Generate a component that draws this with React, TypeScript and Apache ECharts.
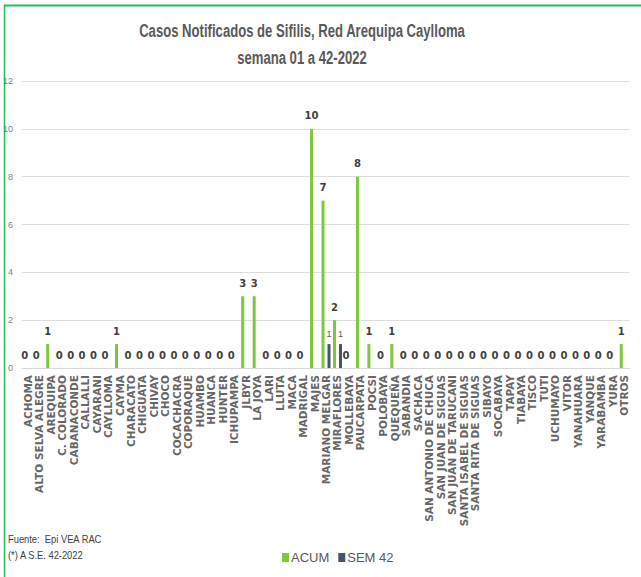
import React, { useEffect, useRef } from "react";
import * as echarts from "echarts";

const categories = [
  "ACHOMA", "ALTO SELVA ALEGRE", "AREQUIPA", "C. COLORADO", "CABANACONDE", "CALLALLI", "CAYARANI", "CAYLLOMA", "CAYMA",
  "CHARACATO", "CHIGUATA", "CHIVAY", "CHOCO", "COCACHACRA", "COPORAQUE", "HUAMBO", "HUANCA", "HUNTER", "ICHUPAMPA",
  "JLBYR", "LA JOYA", "LARI", "LLUTA", "MACA", "MADRIGAL", "MAJES", "MARIANO MELGAR", "MIRAFLORES", "MOLLEBAYA",
  "PAUCARPATA", "POCSI", "POLOBAYA", "QUEQUEÑA", "SABANDIA", "SACHACA", "SAN ANTONIO DE CHUCA", "SAN JUAN DE SIGUAS",
  "SAN JUAN DE TARUCANI", "SANTA ISABEL DE SIGUAS", "SANTA RITA DE SIGUAS", "SIBAYO", "SOCABAYA", "TAPAY", "TIABAYA",
  "TISCO", "TUTI", "UCHUMAYO", "VITOR", "YANAHUARA", "YANQUE", "YARABAMBA", "YURA", "OTROS",
];

const acum = [
  0, 0, 1, 0, 0, 0, 0, 0, 1,
  0, 0, 0, 0, 0, 0, 0, 0, 0, 0,
  3, 3, 0, 0, 0, 0, 10, 7, 2, 0,
  8, 1, 0, 1, 0, 0, 0, 0,
  0, 0, 0, 0, 0, 0, 0,
  0, 0, 0, 0, 0, 0, 0, 0, 1,
];

const sem42 = [
  0, 0, 0, 0, 0, 0, 0, 0, 0,
  0, 0, 0, 0, 0, 0, 0, 0, 0, 0,
  0, 0, 0, 0, 0, 0, 0, 1, 1, 0,
  0, 0, 0, 0, 0, 0, 0, 0,
  0, 0, 0, 0, 0, 0, 0,
  0, 0, 0, 0, 0, 0, 0, 0, 0,
];

const yTicks = [0, 2, 4, 6, 8, 10, 12];

const titleLines = ["Casos Notificados de Sifilis, Red Arequipa Caylloma", "semana 01 a 42-2022"];
const footnotes = ["Fuente:  Epi VEA RAC", "(*) A S.E. 42-2022"];

const SANS = "'Liberation Sans', Arial, sans-serif";

export default function App() {
  const ref = useRef<HTMLDivElement>(null);
  useEffect(() => {
    if (!ref.current) return;
    const chart = echarts.init(ref.current, undefined, { renderer: "svg" });
    chart.setOption({
      animation: false,
      backgroundColor: "#ffffff",
      legend: {
        data: ["ACUM", "SEM 42"],
        left: 277,
        top: 546,
        itemWidth: 7,
        itemHeight: 9,
        itemGap: 9,
        icon: "rect",
        textStyle: { fontFamily: SANS, fontSize: 13, color: "#595959", padding: [0, 0, 0, -3] },
      },
      grid: { left: 22, right: 11, top: 81, bottom: 209, containLabel: false },
      xAxis: {
        type: "category",
        data: categories,
        axisLine: { lineStyle: { color: "#d9d9d9" } },
        axisTick: { show: false },
        axisLabel: {
          interval: 0,
          rotate: 90,
          fontFamily: "'DejaVu Sans', sans-serif",
          fontWeight: "bold",
          fontSize: 10.5,
          color: "#666666",
          margin: 7,
        },
      },
      yAxis: {
        type: "value",
        min: yTicks[0],
        max: yTicks[yTicks.length - 1],
        interval: 2,
        axisLine: { show: false },
        axisTick: { show: false },
        splitLine: { lineStyle: { color: "#dddddd", width: 1 } },
        axisLabel: { fontFamily: SANS, fontSize: 9, color: "#7f7f7f", margin: 9 },
      },
      series: [
        {
          name: "ACUM",
          type: "bar",
          data: acum,
          barWidth: 3,
          barGap: "100%",
          itemStyle: { color: "#7cc83a" },
          label: {
            show: true,
            position: "top",
            distance: 8,
            fontFamily: "'DejaVu Sans', sans-serif",
            fontWeight: "bold",
            fontSize: 10,
            color: "#404040",
          },
        },
        {
          name: "SEM 42",
          type: "bar",
          data: sem42,
          barWidth: 3,
          itemStyle: { color: "#44546a" },
          label: {
            show: true,
            position: "top",
            distance: 6,
            fontFamily: SANS,
            fontSize: 9,
            color: "#595959",
            formatter: (p: any) => (p.value > 0 ? String(p.value) : ""),
          },
        },
      ],
      graphic: [
        { type: "line", shape: { x1: 4, y1: 5.5, x2: 641, y2: 5.5 }, style: { stroke: "#1fbf5a", lineWidth: 2 } },
        { type: "line", shape: { x1: 4.5, y1: 5, x2: 4.5, y2: 577 }, style: { stroke: "#1fbf5a", lineWidth: 1.5 } },
        {
          type: "text",
          x: 302,
          y: 21,
          scaleX: 0.69,
          style: {
            text: titleLines[0],
            font: `bold 19px ${SANS}`,
            fill: "#595959",
            textAlign: "center",
            textVerticalAlign: "top",
          },
        },
        {
          type: "text",
          x: 302,
          y: 48,
          scaleX: 0.69,
          style: {
            text: titleLines[1],
            font: `bold 19px ${SANS}`,
            fill: "#595959",
            textAlign: "center",
            textVerticalAlign: "top",
          },
        },
        {
          type: "text",
          x: 8,
          y: 531,
          scaleX: 0.85,
          style: { text: footnotes.join("\n"), font: `11px ${SANS}`, fill: "#404040", lineHeight: 16 },
        },
      ],
    });
    return () => chart.dispose();
  }, []);
  return <div ref={ref} style={{ position: "fixed", left: 0, top: 0, width: 641, height: 577 }} />;
}
